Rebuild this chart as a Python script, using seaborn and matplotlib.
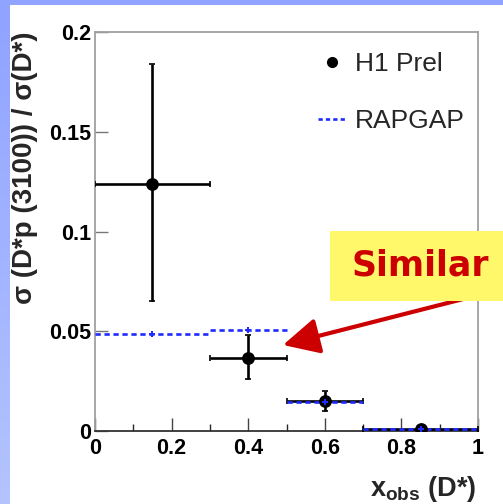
import numpy as np
import pandas as pd
import matplotlib
matplotlib.use("Agg")
import matplotlib.pyplot as plt
import seaborn as sns
from matplotlib.lines import Line2D
from matplotlib.patches import Rectangle
from matplotlib.colors import LinearSegmentedColormap

# ---------------- data ----------------
h1_x = [0.15, 0.4, 0.6, 0.85]
h1_y = [0.124, 0.0365, 0.0148, 0.0008]
h1_xlo = [0.0, 0.3, 0.5, 0.7]
h1_xhi = [0.3, 0.5, 0.7, 1.0]
h1_yup = [0.184, 0.0482, 0.0200, 0.0012]
h1_ydn = [0.065, 0.0262, 0.0100, 0.0004]

rap_x = [0.15, 0.4, 0.6, 0.85]
rap_y = [0.0488, 0.0508, 0.0147, 0.0008]
rap_xlo = [0.0, 0.3, 0.5, 0.7]
rap_xhi = [0.3, 0.5, 0.7, 1.0]

xticks = [0, 0.2, 0.4, 0.6, 0.8, 1.0]
xticklabels = ["0", "0.2", "0.4", "0.6", "0.8", "1"]
yticks = [0, 0.05, 0.1, 0.15, 0.2]
yticklabels = ["0", "0.05", "0.1", "0.15", "0.2"]

h1 = pd.DataFrame({"x": h1_x, "y": h1_y})
rap = pd.DataFrame({"x": rap_x, "y": rap_y})

# ---------------- style ----------------
sns.set_theme(style="ticks")
plt.rcParams["font.family"] = ["Liberation Sans", "DejaVu Sans"]
plt.rcParams["mathtext.fontset"] = "custom"
plt.rcParams["mathtext.rm"] = "Liberation Sans"
plt.rcParams["mathtext.bf"] = "Liberation Sans:bold"

W, H = 503, 504
fig = plt.figure(figsize=(W / 100, H / 100), dpi=100, facecolor="white")

# blue slide frame
fig.patches.append(Rectangle((0, 1 - 5 / H), 1, 5 / H, transform=fig.transFigure,
                             facecolor="#8FA3FF", edgecolor="none", zorder=-5))
bg = fig.add_axes([0, 0, 10 / W, 1 - 5 / H], zorder=-5)
grad = np.linspace(0, 1, 256).reshape(-1, 1)
cm = LinearSegmentedColormap.from_list("g", ["#8FA3FF", "#B4C4FF"])
bg.imshow(grad, aspect="auto", cmap=cm, extent=[0, 1, 0, 1], origin="upper")
bg.axis("off")

ax = fig.add_axes([95 / W, 1 - 431 / H, (478 - 95) / W, (431 - 32) / H])
ax.set_facecolor("white")

blue = "#1F2BFF"

# H1 error bars
xerr = [np.array(h1_x) - np.array(h1_xlo), np.array(h1_xhi) - np.array(h1_x)]
yerr = [np.array(h1_y) - np.array(h1_ydn), np.array(h1_yup) - np.array(h1_y)]
ax.errorbar(h1_x, h1_y, xerr=xerr, yerr=yerr, fmt="none", ecolor="black",
            elinewidth=1.9, capsize=2, capthick=1.2, zorder=3)

# RAPGAP dashed histogram
ax.hlines(rap_y, rap_xlo, rap_xhi, colors=blue, linestyles=(0, (2, 1.4)),
          linewidth=1.9, zorder=4)

# markers
sns.scatterplot(data=h1, x="x", y="y", ax=ax, color="black", s=85,
                edgecolor="black", linewidth=0, zorder=5, legend=False)
sns.scatterplot(data=rap, x="x", y="y", ax=ax, color=blue, marker="P", s=24,
                linewidth=0, zorder=6, legend=False)

ax.set_xlim(0, 1)
ax.set_ylim(0, 0.2)
ax.set_xticks(xticks)
ax.set_xticklabels(xticklabels)
ax.set_yticks(yticks)
ax.set_yticklabels(yticklabels)
ax.set_xticks([0.1, 0.3, 0.5, 0.7, 0.9], minor=True)

for lab in ax.get_xticklabels() + ax.get_yticklabels():
    lab.set_fontweight("bold")
    lab.set_fontsize(15.5)
    lab.set_color("black")

ax.tick_params(axis="both", which="major", direction="in", length=9.5, width=1.0,
               pad=3)
ax.tick_params(axis="x", which="minor", direction="in", length=5, width=1.0)
ax.tick_params(axis="y", colors="#777777", labelcolor="black")
ax.tick_params(axis="x", colors="#444444", labelcolor="black", pad=5)

for side in ["left", "top", "right"]:
    ax.spines[side].set_color("#A0A0A0")
    ax.spines[side].set_linewidth(1.3)
ax.spines["bottom"].set_color("#333333")
ax.spines["bottom"].set_linewidth(1.3)

ax.set_ylabel("σ (D*p (3100)) / σ(D*)", fontsize=20, fontweight="bold",
              loc="top")
ax.yaxis.label.set_va("center")
ax.yaxis.set_label_coords((25 - 95) / 383, 1.0)

ax.set_xlabel(r"$\mathbf{x_{obs}}$ (D*)", fontsize=19.5, fontweight="bold",
              loc="right")
ax.xaxis.label.set_va("center")
ax.xaxis.set_label_coords((476 - 95) / 383, (431 - 489) / 399)

# legend
handles = [
    Line2D([], [], color="black", marker="o", linestyle="none", markersize=7),
    Line2D([], [], color=blue, linestyle=(0, (1.6, 1.2)), linewidth=1.9),
]
ax.legend(handles, ["H1 Prel", "RAPGAP"], loc="upper right",
          bbox_to_anchor=(1.0, 0.982), frameon=False, fontsize=19,
          handlelength=1.05, handletextpad=0.35, labelspacing=1.25,
          borderaxespad=0.1)

# annotation box and arrow
fig.patches.append(Rectangle((330 / W, 1 - 301 / H), (W - 330) / W, 70 / H,
                             transform=fig.transFigure, facecolor="#FFF86A",
                             edgecolor="none", zorder=10))
fig.text(420 / W, 1 - 266 / H, "Similar", fontsize=25, fontweight="bold",
         color="#CC0000", ha="center", va="center", family="DejaVu Sans",
         zorder=11)
ax.annotate("", xy=(283 / W, 1 - 345 / H), xytext=(475 / W, 1 - 296 / H),
            xycoords="figure fraction", textcoords="figure fraction",
            arrowprops=dict(arrowstyle="-|>,head_length=1.1,head_width=0.55",
                            mutation_scale=20, lw=3, color="#CC0000",
                            shrinkA=0, shrinkB=0),
            zorder=12, annotation_clip=False)

fig.savefig("out.png", dpi=100, facecolor="white")
